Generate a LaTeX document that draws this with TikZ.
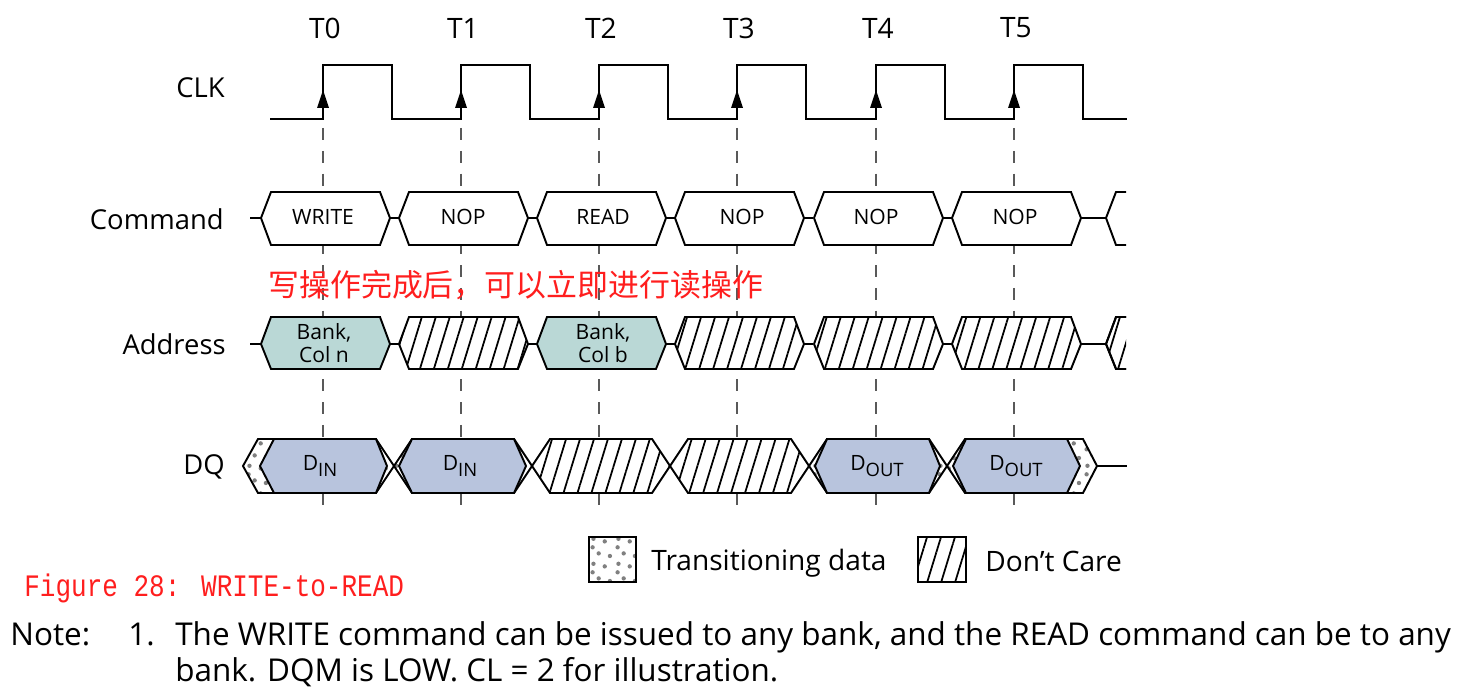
\documentclass[tikz,border=0pt]{standalone}
\usepackage{fontspec}
\setmainfont{Open Sans}
\newfontfamily\cjkfont{Noto Sans CJK SC}
\newfontfamily\capfont{Liberation Mono}
\usetikzlibrary{patterns.meta}
\definecolor{teal0}{RGB}{186,216,214}
\definecolor{blue0}{RGB}{184,196,221}
\definecolor{redtxt}{RGB}{255,30,30}
\pgfdeclarepatternformonly{tdots}{\pgfqpoint{0pt}{0pt}}{\pgfqpoint{14pt}{14pt}}{\pgfqpoint{14pt}{14pt}}{%
  \pgfpathcircle{\pgfqpoint{2pt}{3pt}}{1.25pt}%
  \pgfpathcircle{\pgfqpoint{8.5pt}{1.5pt}}{1.25pt}%
  \pgfpathcircle{\pgfqpoint{11.5pt}{7.5pt}}{1.25pt}%
  \pgfpathcircle{\pgfqpoint{5pt}{9pt}}{1.25pt}%
  \pgfpathcircle{\pgfqpoint{1.5pt}{12.5pt}}{1.25pt}%
  \pgfusepath{fill}}
\tikzset{
  clk/.style={line width=1.2pt, line join=miter},
  sig/.style={line width=1.1pt},
  tline/.style={draw=black!65, line width=0.9pt, dash pattern=on 6.8pt off 6.2pt},
  wbox/.style={draw, line width=1.1pt, fill=white, line join=miter},
  abox/.style={wbox, fill=teal0},
  dbox/.style={wbox, fill=blue0},
  dcbox/.style={draw, line width=1.1pt, line join=miter, preaction={fill=white}, pattern={Lines[angle=73,distance=7.6pt,line width=1pt]}},
  trbox/.style={draw, line width=1.1pt, line join=miter, preaction={fill=white}, pattern=tdots, pattern color=black!50},
  rowlbl/.style={anchor=east, font=\fontsize{15.6}{19}\selectfont, inner sep=0},
  tlbl/.style={font=\fontsize{16}{19}\selectfont, inner sep=0},
  boxlbl/.style={font=\fontsize{12}{13}\selectfont, inner sep=0, align=center},
  txt/.style={inner sep=0, anchor=base west, font=\fontsize{16}{21}\selectfont},
  notetxt/.style={inner sep=0, anchor=base west, font=\fontsize{17.9}{21}\selectfont},
}
\newcommand{\sub}[1]{{\fontsize{10.5}{10}\selectfont\raisebox{-0.35em}{#1}}}
\begin{document}
\begin{tikzpicture}[x=0.02cm, y=-0.02cm]
\useasboundingbox (0,0) rectangle (1464,692);
% dashed time lines
\foreach \t in {323,461,599,737,876,1014}
  \draw[tline] (\t,128) -- (\t,506);
% T labels
\foreach \t/\n/\l in {323/t0/T0,461/t1/T1,599/t2/T2,737/t3/T3,876/t4/T4,1014/t5/T5}
  \node[tlbl] (\n) at (\t+2,28) {\l};
% row labels
\node[rowlbl] (lclk) at (225,88) {CLK};
\node[rowlbl] (lcmd) at (224,219) {Command};
\node[rowlbl] (ladr) at (226,344) {Address};
\node[rowlbl] (ldq) at (225,467) {DQ};
% clock
\draw[clk] (270,119) -- (323,119) -- (323,65) -- (392,65) -- (392,119) -- (461,119) -- (461,65) -- (530,65) -- (530,119) -- (599,119) -- (599,65) -- (668,65) -- (668,119) -- (737,119) -- (737,65) -- (806,65) -- (806,119) -- (876,119) -- (876,65) -- (945,65) -- (945,119) -- (1014,119) -- (1014,65) -- (1083,65) -- (1083,119) -- (1127,119);
\foreach \t in {323,461,599,737,876,1014}
  \fill (\t-6,108) -- (\t,90) -- (\t+6,108) -- cycle;
% command row
\draw[sig] (250,218) -- (261,218);
\foreach \t in {323,461,599,737,876}
  \draw[sig] (\t+67,218) -- (\t+76,218);
\draw[sig] (1081,218) -- (1106,218);
\foreach \t in {323,461,599,737,876,1014}
  \draw[wbox] (\t-62,218) -- (\t-52,192) -- (\t+57,192) -- (\t+67,218) -- (\t+57,245) -- (\t-52,245) -- cycle;
\draw[wbox, fill=none] (1126,192) -- (1116,192) -- (1106,218) -- (1116,245) -- (1126,245);
\node[boxlbl] (c0) at (323,217) {WRITE};
\node[boxlbl] (c1) at (463,217) {NOP};
\node[boxlbl] (c2) at (603,217) {READ};
\node[boxlbl] (c3) at (742,217) {NOP};
\node[boxlbl] (c4) at (876,217) {NOP};
\node[boxlbl] (c5) at (1015,217) {NOP};
% address row
\draw[sig] (250,344) -- (261,344);
\foreach \t in {323,461,599,737,876}
  \draw[sig] (\t+67,344) -- (\t+76,344);
\draw[sig] (1081,344) -- (1106,344);
\foreach \t in {323,599}
  \draw[abox] (\t-62,344) -- (\t-52,317) -- (\t+57,317) -- (\t+67,344) -- (\t+57,369) -- (\t-52,369) -- cycle;
\foreach \t in {461,737,876,1014}
  \draw[dcbox] (\t-62,344) -- (\t-52,317) -- (\t+57,317) -- (\t+67,344) -- (\t+57,369) -- (\t-52,369) -- cycle;
\begin{scope}
\clip (1100,300) rectangle (1126,380);
\draw[dcbox] (1106,344) -- (1116,317) -- (1150,317) -- (1150,369) -- (1116,369) -- cycle;
\end{scope}
\draw[sig] (1126,317) -- (1116,317) -- (1106,344) -- (1116,369) -- (1126,369);
\node[boxlbl] (a0) at (324,343) {Bank,\\Col n};
\node[boxlbl] (a2) at (603,343) {Bank,\\Col b};
% DQ row
\draw[trbox] (243,466) -- (258,439) -- (376,439) -- (394,466) -- (376,493) -- (258,493) -- cycle;
\draw[trbox] (394,466) -- (412,439) -- (514,439) -- (532,466) -- (514,493) -- (412,493) -- cycle;
\draw[dcbox] (532,466) -- (550,439) -- (652,439) -- (670,466) -- (652,493) -- (550,493) -- cycle;
\draw[dcbox] (670,466) -- (688,439) -- (791,439) -- (809,466) -- (791,493) -- (688,493) -- cycle;
\draw[trbox] (809,466) -- (827,439) -- (929,439) -- (947,466) -- (929,493) -- (827,493) -- cycle;
\draw[trbox] (947,466) -- (965,439) -- (1083,439) -- (1097,466) -- (1083,493) -- (965,493) -- cycle;
\draw[dbox] (260,466) -- (274,439) -- (376,439) -- (387,466) -- (376,493) -- (274,493) -- cycle;
\draw[dbox] (399,466) -- (412,439) -- (514,439) -- (526,466) -- (514,493) -- (412,493) -- cycle;
\draw[dbox] (815,466) -- (827,439) -- (929,439) -- (940,466) -- (929,493) -- (827,493) -- cycle;
\draw[dbox] (953,466) -- (966,439) -- (1067,439) -- (1080,466) -- (1067,493) -- (966,493) -- cycle;
\draw[sig] (1097,466) -- (1127,466);
\node[boxlbl] (d0) at (320,466) {D\sub{IN}};
\node[boxlbl] (d1) at (460,466) {D\sub{IN}};
\node[boxlbl] (d4) at (877,466) {D\sub{OUT}};
\node[boxlbl] (d5) at (1016,466) {D\sub{OUT}};
% legend
\draw[trbox, line width=0.9pt] (589,537) rectangle (636,582);
\node[txt, anchor=west] (ltr) at (651,563) {Transitioning data};
\draw[dcbox, line width=0.9pt] (918,537) rectangle (966,582);
\node[txt, anchor=west] (ldc) at (985,561) {Don’t Care};
% annotations
\node[inner sep=0, anchor=west, text=redtxt, font=\cjkfont\fontsize{17.6}{20}\selectfont] (cn) at (268,285) {写操作完成后，可以立即进行读操作};
\node[inner sep=0, anchor=base west, text=redtxt, font=\capfont\fontsize{14.8}{16}\selectfont] (fig) at (24,596) {\scalebox{1}[1.2]{Figure 28: WRITE-to-READ}};
\node[notetxt] (note) at (10,645) {Note:};
\node[notetxt] (n1) at (128,645) {1.};
\node[notetxt] (l1) at (175,645) {The WRITE command can be issued to any bank, and the READ command can be to any};
\node[notetxt] (l2) at (175,681) {bank. DQM is LOW. CL = 2 for illustration.};
\end{tikzpicture}
\end{document}
